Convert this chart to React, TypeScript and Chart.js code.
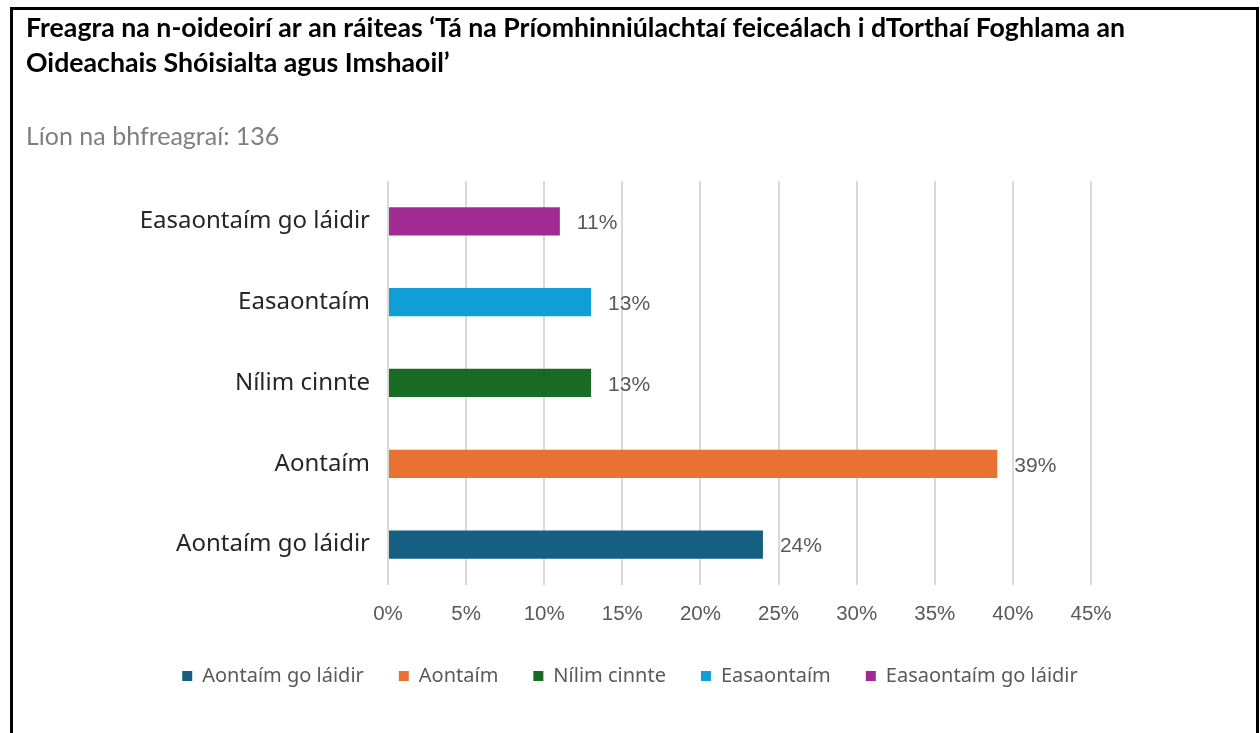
import React, { useEffect, useRef } from "react";
import { Chart, registerables } from "chart.js";

Chart.register(...registerables);

const titleLines = [
  "Freagra na n-oideoirí ar an ráiteas ‘Tá na Príomhinniúlachtaí feiceálach i dTorthaí Foghlama an",
  "Oideachais Shóisialta agus Imshaoil’",
];
const subtitleText = "Líon na bhfreagraí: 136";
const categories = [
  "Aontaím go láidir",
  "Aontaím",
  "Nílim cinnte",
  "Easaontaím",
  "Easaontaím go láidir",
];
const percentValues = [24, 39, 13, 13, 11];
const barColors = ["#156082", "#E97132", "#196B24", "#0F9ED5", "#A02B93"];
const tickMax = 45;
const tickStep = 5;

const labelFont = "'Noto Sans', 'Open Sans', sans-serif";
const numFont = "'Liberation Sans', Arial, sans-serif";

const valueLabelPlugin = {
  id: "valueLabels",
  afterDatasetsDraw(chart: any) {
    const ctx = chart.ctx;
    const meta = chart.getDatasetMeta(0);
    ctx.save();
    ctx.font = `21px ${numFont}`;
    ctx.fillStyle = "#595959";
    ctx.textAlign = "left";
    ctx.textBaseline = "middle";
    meta.data.forEach((bar: any, i: number) => {
      ctx.fillText(percentValues[i] + "%", bar.x + 17, bar.y + 2);
    });
    ctx.restore();
  },
};

export default function App() {
  const canvasRef = useRef<HTMLCanvasElement | null>(null);

  useEffect(() => {
    if (!canvasRef.current) return;
    const chart = new Chart(canvasRef.current, {
      type: "bar",
      data: {
        labels: categories,
        datasets: [
          {
            data: percentValues,
            backgroundColor: barColors,
            borderWidth: 0,
            categoryPercentage: 1,
            barPercentage: 0.35,
          },
        ],
      },
      plugins: [valueLabelPlugin],
      options: {
        indexAxis: "y",
        animation: false,
        responsive: false,
        maintainAspectRatio: false,
        layout: { padding: { left: 26, right: 26, top: 0, bottom: 37 } },
        plugins: {
          tooltip: { enabled: false },
          title: {
            display: true,
            text: titleLines,
            align: "start",
            color: "#000000",
            font: { family: "Lato, sans-serif", size: 26.7, weight: "bold", lineHeight: 1.31 },
            padding: { top: 11, bottom: 41 },
          },
          subtitle: {
            display: true,
            text: subtitleText,
            align: "start",
            color: "#7f7f7f",
            font: { family: "Lato, sans-serif", size: 25, lineHeight: 1.2 },
            padding: { top: 0, bottom: 29 },
          },
          legend: {
            display: true,
            position: "bottom",
            labels: {
              boxWidth: 10,
              boxHeight: 10,
              padding: 35,
              color: "#595959",
              font: { family: labelFont, size: 20 },
              generateLabels: () =>
                categories.map((c, i) => ({
                  text: c,
                  fillStyle: barColors[i],
                  strokeStyle: barColors[i],
                  lineWidth: 0,
                  hidden: false,
                  index: i,
                  datasetIndex: 0,
                  fontColor: "#595959",
                })),
            },
          },
        },
        scales: {
          x: {
            min: 0,
            max: tickMax,
            grid: { color: "#d9d9d9", lineWidth: 2, drawTicks: false },
            border: { display: false },
            ticks: {
              stepSize: tickStep,
              padding: 17,
              color: "#595959",
              font: { family: numFont, size: 20.5 },
              callback: (v: any) => v + "%",
            },
            afterFit: (scale: any) => {
              scale.height = 46;
            },
          },
          y: {
            reverse: true,
            grid: { display: false, drawTicks: false },
            border: { display: false },
            ticks: {
              padding: 18,
              color: "#262626",
              font: { family: labelFont, size: 24 },
            },
            afterFit: (scale: any) => {
              scale.width = 362;
            },
          },
          ySpacer: {
            type: "linear",
            position: "right",
            display: true,
            grid: { display: false, drawTicks: false },
            border: { display: false },
            ticks: { display: false },
            afterFit: (scale: any) => {
              scale.width = 143;
            },
          },
        },
      },
    });
    return () => chart.destroy();
  }, []);

  return (
    <div style={{ position: "fixed", left: 0, top: 0, width: 1260, height: 733, background: "#fff", overflow: "hidden" }}>
      <canvas ref={canvasRef} width={1260} height={733} style={{ position: "absolute", left: 0, top: 0, width: 1260, height: 733 }} />
      <div
        style={{
          position: "absolute",
          left: 10,
          top: 7,
          width: 1249,
          height: 740,
          boxSizing: "border-box",
          borderTop: "3px solid #000",
          borderLeft: "3px solid #000",
          borderRight: "3px solid #000",
          pointerEvents: "none",
        }}
      />
    </div>
  );
}
